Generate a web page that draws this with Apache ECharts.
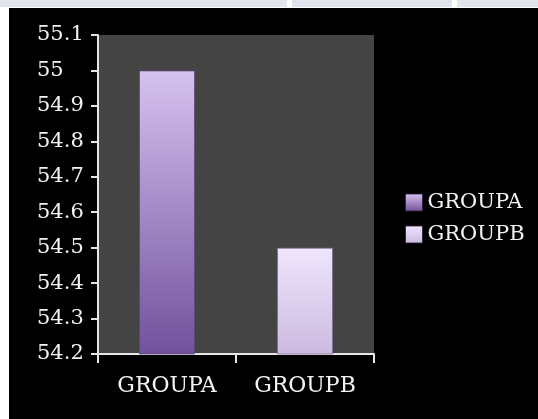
<!DOCTYPE html>
<html>
<head>
<meta charset="utf-8">
<script src="https://cdn.jsdelivr.net/npm/echarts@6/dist/echarts.min.js"></script>
<style>
  html, body { margin: 0; padding: 0; background: #ffffff; }
  #chart { width: 538px; height: 419px; }
</style>
</head>
<body>
<div id="chart"></div>
<script>
// Categories and values
const categories = ['GROUPA', 'GROUPB'];
const seriesNames = ['GROUPA', 'GROUPB'];
const groupAValues = [55, '-'];
const groupBValues = ['-', 54.5];
const yMin = 54.2;
const yMax = 55.1;
const yStep = 0.1;

const FONT = 'DejaVu Serif';

function grad(top, bottom) {
  return new echarts.graphic.LinearGradient(0, 0, 0, 1, [
    { offset: 0, color: top },
    { offset: 1, color: bottom }
  ]);
}

const chart = echarts.init(document.getElementById('chart'), null, { renderer: 'canvas' });

chart.setOption({
  backgroundColor: '#ffffff',
  animation: false,
  graphic: [
    // dark canvas behind the chart
    { type: 'rect', left: 9, top: 8, shape: { width: 529, height: 411 }, style: { fill: '#000000' }, z: -10 },
    // thin strip along the top edge
    { type: 'rect', left: 0, top: 0, shape: { width: 287, height: 7 }, style: { fill: '#dfe4ed' }, z: -10 },
    { type: 'rect', left: 292, top: 0, shape: { width: 160, height: 7 }, style: { fill: '#dfe4ed' }, z: -10 },
    { type: 'rect', left: 457, top: 0, shape: { width: 81, height: 7 }, style: { fill: '#dfe4ed' }, z: -10 }
  ],
  grid: {
    left: 98, right: 164, top: 35, bottom: 65,
    show: true, backgroundColor: '#444444', borderWidth: 0
  },
  legend: {
    orient: 'vertical',
    left: 400, top: 187,
    itemWidth: 17, itemHeight: 17, itemGap: 11,
    icon: 'rect',
    itemStyle: { borderColor: 'rgba(40,30,60,0.8)', borderWidth: 1 },
    textStyle: { color: '#f2f2f2', fontFamily: FONT, fontSize: 21, lineHeight: 17, padding: [2, 0, 0, 0] },
    data: seriesNames
  },
  xAxis: {
    type: 'category',
    data: categories,
    axisLine: { lineStyle: { color: '#e6e6e6', width: 2 } },
    axisTick: { show: true, length: 9, lineStyle: { color: '#e6e6e6', width: 2 } },
    axisLabel: { color: '#f2f2f2', fontFamily: FONT, fontSize: 22, margin: 21 },
    splitLine: { show: false }
  },
  yAxis: {
    type: 'value',
    min: yMin, max: yMax, interval: yStep,
    axisLine: { show: true, lineStyle: { color: '#e6e6e6', width: 2 } },
    axisTick: { show: true, length: 7, lineStyle: { color: '#e6e6e6', width: 2 } },
    axisLabel: {
      color: '#f2f2f2', fontFamily: FONT, fontSize: 21,
      align: 'left', margin: 61,
      formatter: v => String(parseFloat(v.toFixed(1)))
    },
    splitLine: { show: false }
  },
  series: [
    {
      name: seriesNames[0], type: 'bar', data: groupAValues,
      barWidth: 56, barGap: '-100%',
      itemStyle: { color: grad('#d6c2ef', '#71519c'), borderColor: 'rgba(90,70,120,0.7)', borderWidth: 1 }
    },
    {
      name: seriesNames[1], type: 'bar', data: groupBValues,
      barWidth: 56, barGap: '-100%',
      itemStyle: { color: grad('#efe6fd', '#cbbadf'), borderColor: 'rgba(120,105,145,0.7)', borderWidth: 1 }
    }
  ]
});
</script>
</body>
</html>
